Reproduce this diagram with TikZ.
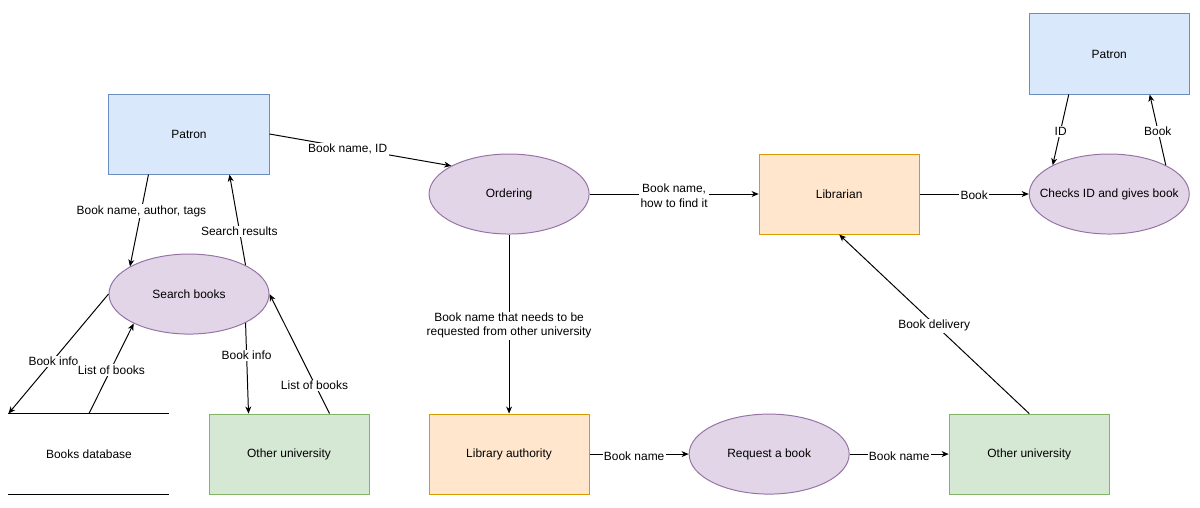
\documentclass[tikz,border=0pt]{standalone}
\usepackage{fontspec}
\setsansfont{Liberation Sans}
\usepackage{tikz}
\usetikzlibrary{positioning}
\usetikzlibrary{shapes.geometric}
\usetikzlibrary{arrows.meta}

\definecolor{patronfill}{HTML}{DAE8FC}
\definecolor{patronline}{HTML}{6C8EBF}
\definecolor{processfill}{HTML}{E1D5E7}
\definecolor{processline}{HTML}{9673A6}
\definecolor{stafffill}{HTML}{FFE6CC}
\definecolor{staffline}{HTML}{D79B00}
\definecolor{unifill}{HTML}{D5E8D4}
\definecolor{uniline}{HTML}{82B366}

\begin{document}
\begin{tikzpicture}[x=0.025cm,y=-0.025cm,>={Stealth[length=5pt,width=4.2pt,inset=1.5pt]},line width=0.7pt,on grid,
  box/.style={minimum width=4cm,minimum height=2cm,inner sep=0pt,font=\sffamily\fontsize{8.5}{10}\selectfont},
  patron node/.style={box,rectangle,draw=patronline,fill=patronfill},
  staff node/.style={box,rectangle,draw=staffline,fill=stafffill},
  uni node/.style={box,rectangle,draw=uniline,fill=unifill},
  store node/.style={box,rectangle},
  process node/.style={box,ellipse,inner xsep=-1.5cm,draw=processline,fill=processfill},
  lbl/.style={fill=white,inner sep=1pt,yshift=-1.2pt,font=\sffamily\fontsize{8.5}{10}\selectfont}]

  \useasboundingbox (0,0) rectangle (1200,507);

  \node[patron node] (patron) at (189,134) {Patron};
  \node[process node] (search) [below=4cm of patron] {Search books};
  \node[store node] (books) [below left=4cm and 2.5cm of search] {Books database};
  \node[uni node] (otheruni) [below right=4cm and 2.5cm of search] {Other university};
  \node[process node] (ordering) [below right=1.5cm and 8cm of patron] {Ordering};
  \node[staff node] (authority) [below=6.5cm of ordering] {Library authority};
  \node[staff node] (librarian) [right=8.25cm of ordering] {Librarian};
  \node[process node] (checks) [right=6.75cm of librarian] {Checks ID and gives book};
  \node[patron node] (patron2) [above=3.5cm of checks] {Patron};
  \node[process node] (request) [right=6.5cm of authority] {Request a book};
  \node[uni node] (otheruni2) [right=6.5cm of request] {Other university};

  \draw (books.north west) -- (books.north east)
        (books.south west) -- (books.south east);

  \path[->,every node/.style={lbl}]
    (patron.east) edge node[pos=.43] {Book name, ID} (ordering.154)
    (patron.225) edge node[pos=.38] {Book name, author, tags} (search.155)
    (search.27) edge node[pos=.39] {Search results} (patron.-45)
    (search.west) edge node[pos=.55] {Book info} (books.north west)
    (books.north) edge node {List of books} (search.208)
    (search.-27) edge node[pos=.34] {Book info} (otheruni.135)
    (otheruni.45) edge node[pos=.25] {List of books} (search.east)
    (ordering.east) edge node[align=center] {Book name,\\how to find it} (librarian.west)
    (ordering.south) edge node[align=center] {Book name that needs to be\\requested from other university} (authority.north)
    (authority.east) edge node[pos=.45] {Book name} (request.west)
    (request.east) edge node {Book name} (otheruni2.west)
    (otheruni2.north) edge node {Book delivery} (librarian.south)
    (librarian.east) edge node {Book} (checks.west)
    (patron2.225) edge node {ID} (checks.153)
    (checks.27) edge node {Book} (patron2.-45);

\end{tikzpicture}
\end{document}
